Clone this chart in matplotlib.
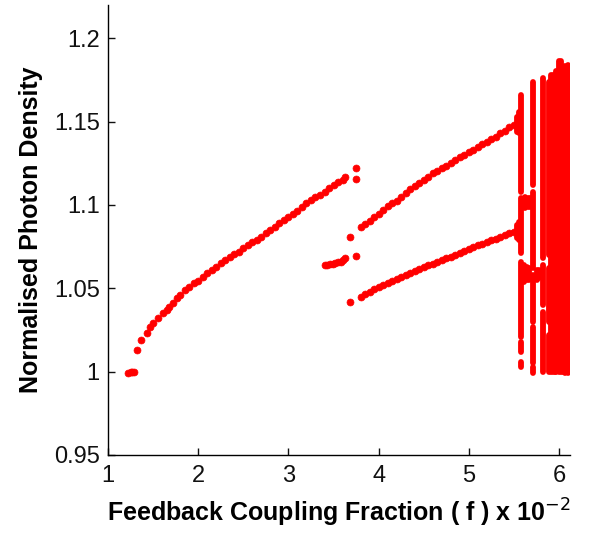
import matplotlib
matplotlib.use("Agg")
import matplotlib.pyplot as plt

plt.rcParams['font.family'] = ['Liberation Sans', 'DejaVu Sans']
plt.rcParams['mathtext.fontset'] = 'custom'
plt.rcParams['mathtext.rm'] = 'Liberation Sans'
plt.rcParams['mathtext.default'] = 'rm'

# ---- data (feedback fraction x1e-2, normalised photon density) ----
branch1_f = [1.22, 1.25, 1.27, 1.29, 1.32, 1.37, 1.43, 1.47, 1.50, 1.55, 1.61, 1.65,
             1.68, 1.72, 1.76, 1.80, 1.85, 1.90, 1.95, 2.00, 2.05, 2.10, 2.15, 2.20,
             2.25, 2.30, 2.35, 2.40, 2.45, 2.50, 2.55, 2.60, 2.65, 2.70, 2.75, 2.80,
             2.85, 2.90, 2.95, 3.00, 3.05, 3.10, 3.15, 3.20, 3.25, 3.30, 3.35, 3.40,
             3.45, 3.50, 3.55, 3.60, 3.63]
branch1_y = [0.999, 1.000, 1.000, 1.000, 1.013, 1.019, 1.023, 1.027, 1.029, 1.032, 1.035, 1.037,
             1.039, 1.041, 1.044, 1.046, 1.049, 1.051, 1.053, 1.0545, 1.057, 1.059, 1.061, 1.063,
             1.065, 1.0667, 1.0685, 1.0705, 1.072, 1.074, 1.0757, 1.0775, 1.079, 1.081, 1.083, 1.0848,
             1.0866, 1.089, 1.091, 1.0925, 1.0943, 1.0965, 1.099, 1.101, 1.103, 1.105, 1.106, 1.108,
             1.110, 1.112, 1.114, 1.115, 1.117]

mid_f = [3.40, 3.43, 3.46, 3.49, 3.52, 3.55, 3.58, 3.61, 3.63]
mid_y = [1.0637, 1.064, 1.0643, 1.0647, 1.065, 1.0655, 1.066, 1.067, 1.068]

isolated_f = [3.68, 3.746, 3.68, 3.746, 3.746]
isolated_y = [1.0807, 1.0695, 1.0415, 1.122, 1.1155]

upper2_f = [3.80, 3.85, 3.90, 3.95, 4.00, 4.05, 4.10, 4.15, 4.20, 4.25, 4.30, 4.35,
            4.40, 4.45, 4.50, 4.55, 4.60, 4.65, 4.70, 4.75, 4.80, 4.85, 4.90, 4.95,
            5.00, 5.05, 5.10, 5.15, 5.20, 5.25, 5.30, 5.35, 5.40, 5.45, 5.50]
upper2_y = [1.0865, 1.0885, 1.0905, 1.0925, 1.0945, 1.097, 1.0993, 1.101, 1.1025, 1.105, 1.107, 1.1093,
            1.1115, 1.113, 1.115, 1.117, 1.119, 1.1205, 1.122, 1.1235, 1.125, 1.127, 1.1287, 1.130,
            1.1315, 1.133, 1.135, 1.1365, 1.138, 1.1395, 1.141, 1.143, 1.1445, 1.1465, 1.148]

lower2_f = upper2_f
lower2_y = [1.045, 1.0465, 1.048, 1.0495, 1.051, 1.052, 1.053, 1.0545, 1.0557, 1.057, 1.058, 1.0592,
            1.0605, 1.0617, 1.0627, 1.0637, 1.0647, 1.0657, 1.067, 1.068, 1.069, 1.070, 1.0712, 1.0725,
            1.0737, 1.0748, 1.0757, 1.0767, 1.0777, 1.0787, 1.0797, 1.0808, 1.0818, 1.083, 1.084]

# chaotic region: vertical spans of densely packed points (f, low, high)
chaos_f = [5.53, 5.55, 5.53, 5.55,
           5.58, 5.58, 5.58, 5.58, 5.58,
           5.62, 5.65, 5.68, 5.61, 5.64, 5.67, 5.75, 5.78,
           5.71, 5.71, 5.71, 5.71, 5.71,
           5.82, 5.82, 5.82,
           5.89, 5.89, 5.89, 5.91, 5.91, 5.93, 5.93, 5.95, 5.97, 5.995,
           6.02, 6.045, 6.07, 6.095, 6.12]
chaos_lo = [1.144, 1.143, 1.080, 1.079,
            1.108, 1.071, 1.021, 1.012, 1.003,
            1.098, 1.099, 1.099, 1.054, 1.055, 1.055, 1.055, 1.056,
            1.112, 1.062, 1.030, 1.005, 0.999,
            1.068, 1.040, 1.000,
            1.070, 1.030, 1.000, 1.060, 1.000, 1.045, 1.000, 1.000, 1.000, 1.000,
            1.000, 1.000, 0.999, 0.999, 1.000]
chaos_hi = [1.153, 1.156, 1.088, 1.090,
            1.166, 1.104, 1.066, 1.018, 1.006,
            1.105, 1.104, 1.104, 1.064, 1.063, 1.062, 1.061, 1.061,
            1.174, 1.108, 1.058, 1.027, 1.003,
            1.176, 1.064, 1.036,
            1.174, 1.062, 1.022, 1.178, 1.050, 1.178, 1.040, 1.178, 1.180, 1.186,
            1.186, 1.180, 1.183, 1.184, 1.176]

xticks = [1, 2, 3, 4, 5, 6]
yticks = [0.95, 1.0, 1.05, 1.1, 1.15, 1.2]
ytick_labels = ['0.95', '1', '1.05', '1.1', '1.15', '1.2']

RED = '#ff0000'

fig = plt.figure(figsize=(5.9, 5.34), dpi=100)
ax = fig.add_axes([0.183, 0.148, 0.783, 0.843])

mk = dict(linestyle='none', marker='o', ms=5.0, mfc=RED, mec=RED, mew=0.5)
ax.plot(branch1_f, branch1_y, **mk)
ax.plot(mid_f, mid_y, **mk)
ax.plot(isolated_f, isolated_y, **mk)
ax.plot(upper2_f, upper2_y, **mk)
ax.plot(lower2_f, lower2_y, **mk)
ax.vlines(chaos_f, chaos_lo, chaos_hi, colors=RED, linewidth=4.2, capstyle='round')

ax.set_xlim(1, 6.12)
ax.set_ylim(0.95, 1.22)
ax.set_xticks(xticks)
ax.set_xticklabels([str(t) for t in xticks])
ax.set_yticks(yticks)
ax.set_yticklabels(ytick_labels)
ax.tick_params(direction='in', length=5, width=1, labelsize=17, colors='#111111')
ax.tick_params(axis='y', pad=6)
ax.tick_params(axis='x', pad=7)
for s in ['top', 'right']:
    ax.spines[s].set_visible(False)
for s in ['left', 'bottom']:
    ax.spines[s].set_linewidth(1)

ax.set_xlabel(r'Feedback Coupling Fraction ( f ) x 10$^{\mathsf{-2}}$', fontsize=18,
              fontweight='bold', labelpad=7)
ax.set_ylabel('Normalised Photon Density', fontsize=18, fontweight='bold', labelpad=8)

fig.savefig('out.png', dpi=100, facecolor='white')
